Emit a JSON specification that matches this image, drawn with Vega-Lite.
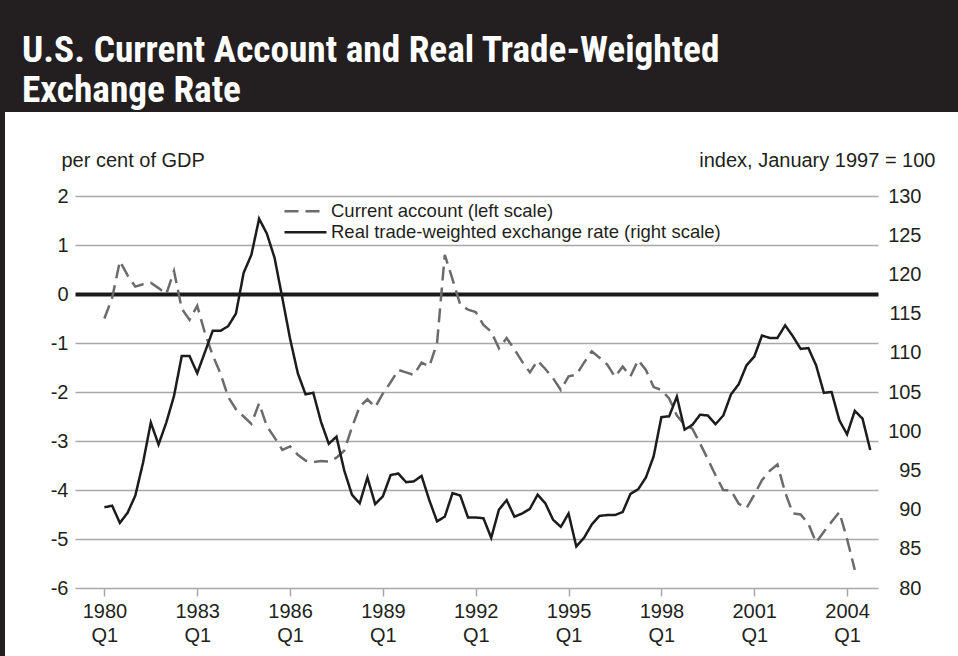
{
  "$schema": "https://vega.github.io/schema/vega-lite/v6.json",
  "width": 953,
  "height": 544,
  "autosize": {"type": "none"},
  "padding": {"left": 5, "top": 112, "right": 0, "bottom": 0},
  "background": "#231f20",
  "title": {
    "text": ["U.S. Current Account and Real Trade-Weighted", "Exchange Rate"],
    "anchor": "start",
    "frame": "group",
    "orient": "top",
    "font": "Roboto Condensed, DejaVu Sans Condensed, Liberation Sans Narrow, Roboto",
    "fontWeight": "bold",
    "fontSize": 37.3,
    "color": "#ffffff",
    "lineHeight": 40,
    "baseline": "top",
    "offset": 2,
    "dx": 17
  },
  "config": {
    "view": {"fill": "#ffffff", "stroke": null},
    "font": "Liberation Sans",
    "axis": {
      "labelFont": "Liberation Sans",
      "labelFontSize": 20,
      "labelColor": "#231f20",
      "titleFont": "Liberation Sans",
      "titleFontSize": 20,
      "titleFontWeight": "normal",
      "titleColor": "#231f20",
      "labelOverlap": false
    },
    "legend": {
      "labelFont": "Liberation Sans",
      "labelFontSize": 18.5,
      "labelColor": "#231f20",
      "symbolType": "stroke",
      "symbolSize": 1764,
      "symbolStrokeWidth": 2.5,
      "labelOffset": 3,
      "clipHeight": 18.5,
      "rowPadding": 2,
      "padding": 0,
      "labelLimit": 700
    }
  },
  "data": {
    "values": [
      {"t": 1980.00, "ca": -0.50, "er": 90.3},
      {"t": 1980.25, "ca": -0.08, "er": 90.5},
      {"t": 1980.50, "ca": 0.67, "er": 88.3},
      {"t": 1980.75, "ca": 0.38, "er": 89.6},
      {"t": 1981.00, "ca": 0.15, "er": 91.8},
      {"t": 1981.25, "ca": 0.20, "er": 96.0},
      {"t": 1981.50, "ca": 0.23, "er": 101.1},
      {"t": 1981.75, "ca": 0.12, "er": 98.3},
      {"t": 1982.00, "ca": 0.00, "er": 101.1},
      {"t": 1982.25, "ca": 0.47, "er": 104.5},
      {"t": 1982.50, "ca": -0.30, "er": 109.6},
      {"t": 1982.75, "ca": -0.53, "er": 109.6},
      {"t": 1983.00, "ca": -0.24, "er": 107.4},
      {"t": 1983.25, "ca": -0.80, "er": 110.1},
      {"t": 1983.50, "ca": -1.25, "er": 112.8},
      {"t": 1983.75, "ca": -1.62, "er": 112.8},
      {"t": 1984.00, "ca": -2.10, "er": 113.4},
      {"t": 1984.25, "ca": -2.35, "er": 115.0},
      {"t": 1984.50, "ca": -2.50, "er": 120.2},
      {"t": 1984.75, "ca": -2.65, "er": 122.5},
      {"t": 1985.00, "ca": -2.23, "er": 127.1},
      {"t": 1985.25, "ca": -2.70, "er": 125.2},
      {"t": 1985.50, "ca": -2.93, "er": 122.1},
      {"t": 1985.75, "ca": -3.18, "er": 117.0},
      {"t": 1986.00, "ca": -3.11, "er": 111.8},
      {"t": 1986.25, "ca": -3.28, "er": 107.4},
      {"t": 1986.50, "ca": -3.40, "er": 104.7},
      {"t": 1986.75, "ca": -3.43, "er": 104.9},
      {"t": 1987.00, "ca": -3.41, "er": 101.2},
      {"t": 1987.25, "ca": -3.42, "er": 98.4},
      {"t": 1987.50, "ca": -3.34, "er": 99.3},
      {"t": 1987.75, "ca": -3.20, "er": 95.0},
      {"t": 1988.00, "ca": -2.72, "er": 91.9},
      {"t": 1988.25, "ca": -2.30, "er": 90.8},
      {"t": 1988.50, "ca": -2.15, "er": 94.1},
      {"t": 1988.75, "ca": -2.31, "er": 90.7},
      {"t": 1989.00, "ca": -2.03, "er": 91.7},
      {"t": 1989.25, "ca": -1.80, "er": 94.4},
      {"t": 1989.50, "ca": -1.55, "er": 94.6},
      {"t": 1989.75, "ca": -1.60, "er": 93.5},
      {"t": 1990.00, "ca": -1.65, "er": 93.6},
      {"t": 1990.25, "ca": -1.40, "er": 94.3},
      {"t": 1990.50, "ca": -1.48, "er": 91.2},
      {"t": 1990.75, "ca": -1.00, "er": 88.5},
      {"t": 1991.00, "ca": 0.80, "er": 89.1},
      {"t": 1991.25, "ca": 0.30, "er": 92.1},
      {"t": 1991.50, "ca": -0.22, "er": 91.8},
      {"t": 1991.75, "ca": -0.32, "er": 89.0},
      {"t": 1992.00, "ca": -0.37, "er": 89.0},
      {"t": 1992.25, "ca": -0.63, "er": 88.9},
      {"t": 1992.50, "ca": -0.77, "er": 86.4},
      {"t": 1992.75, "ca": -1.11, "er": 90.0},
      {"t": 1993.00, "ca": -0.90, "er": 91.2},
      {"t": 1993.25, "ca": -1.13, "er": 89.1},
      {"t": 1993.50, "ca": -1.38, "er": 89.5},
      {"t": 1993.75, "ca": -1.60, "er": 90.1},
      {"t": 1994.00, "ca": -1.36, "er": 91.9},
      {"t": 1994.25, "ca": -1.53, "er": 90.8},
      {"t": 1994.50, "ca": -1.72, "er": 88.7},
      {"t": 1994.75, "ca": -1.96, "er": 87.8},
      {"t": 1995.00, "ca": -1.68, "er": 89.5},
      {"t": 1995.25, "ca": -1.65, "er": 85.3},
      {"t": 1995.50, "ca": -1.40, "er": 86.4},
      {"t": 1995.75, "ca": -1.17, "er": 88.1},
      {"t": 1996.00, "ca": -1.30, "er": 89.2},
      {"t": 1996.25, "ca": -1.44, "er": 89.3},
      {"t": 1996.50, "ca": -1.69, "er": 89.3},
      {"t": 1996.75, "ca": -1.48, "er": 89.7},
      {"t": 1997.00, "ca": -1.68, "er": 92.0},
      {"t": 1997.25, "ca": -1.35, "er": 92.6},
      {"t": 1997.50, "ca": -1.55, "er": 94.1},
      {"t": 1997.75, "ca": -1.90, "er": 96.8},
      {"t": 1998.00, "ca": -1.96, "er": 101.8},
      {"t": 1998.25, "ca": -2.13, "er": 101.9},
      {"t": 1998.50, "ca": -2.48, "er": 104.4},
      {"t": 1998.75, "ca": -2.67, "er": 100.2},
      {"t": 1999.00, "ca": -2.75, "er": 100.8},
      {"t": 1999.25, "ca": -3.05, "er": 102.1},
      {"t": 1999.50, "ca": -3.37, "er": 102.0},
      {"t": 1999.75, "ca": -3.70, "er": 100.9},
      {"t": 2000.00, "ca": -4.00, "er": 102.0},
      {"t": 2000.25, "ca": -4.01, "er": 104.7},
      {"t": 2000.50, "ca": -4.28, "er": 106.0},
      {"t": 2000.75, "ca": -4.37, "er": 108.4},
      {"t": 2001.00, "ca": -4.10, "er": 109.5},
      {"t": 2001.25, "ca": -3.80, "er": 112.2},
      {"t": 2001.50, "ca": -3.61, "er": 111.9},
      {"t": 2001.75, "ca": -3.48, "er": 111.9},
      {"t": 2002.00, "ca": -4.05, "er": 113.5},
      {"t": 2002.25, "ca": -4.48, "er": 112.1},
      {"t": 2002.50, "ca": -4.50, "er": 110.5},
      {"t": 2002.75, "ca": -4.69, "er": 110.6},
      {"t": 2003.00, "ca": -5.07, "er": 108.4},
      {"t": 2003.25, "ca": -4.85, "er": 104.9},
      {"t": 2003.50, "ca": -4.65, "er": 105.0},
      {"t": 2003.75, "ca": -4.45, "er": 101.4},
      {"t": 2004.00, "ca": -5.00, "er": 99.6},
      {"t": 2004.25, "ca": -5.63, "er": 102.6},
      {"t": 2004.50, "er": 101.6},
      {"t": 2004.75, "er": 97.6}
    ]
  },
  "layer": [
    {
      "mark": {"type": "line", "strokeWidth": 2.5},
      "encoding": {
        "x": {
          "field": "t",
          "type": "quantitative",
          "scale": {"domain": [1979.05, 2005], "range": [70, 873], "nice": false, "zero": false},
          "axis": {
            "values": [1980, 1983, 1986, 1989, 1992, 1995, 1998, 2001, 2004],
            "format": "d",
            "labelExpr": "[datum.label, 'Q1']",
            "grid": false,
            "domain": false,
            "ticks": true,
            "tickSize": 8,
            "tickColor": "#a8a8a8",
            "tickWidth": 1.5,
            "labelLineHeight": 24,
            "labelPadding": 5,
            "title": null,
            "offset": -68
          }
        },
        "y": {
          "field": "ca",
          "type": "quantitative",
          "scale": {"domain": [-6, 2], "range": [476, 84], "nice": false, "zero": false},
          "axis": {
            "orient": "left",
            "values": [-6, -5, -4, -3, -2, -1, 0, 1, 2],
            "labelExpr": "'' + datum.value",
            "offset": -70,
            "grid": true,
            "gridColor": {"condition": {"test": "datum.value === 0", "value": "#1a1a1a"}, "value": "#a8a8a8"},
            "gridWidth": {"condition": {"test": "datum.value === 0", "value": 4}, "value": 1.5},
            "domain": false,
            "ticks": false,
            "tickSize": 0,
            "labelPadding": 7,
            "title": "per cent of GDP",
            "titleAngle": 0,
            "titleAlign": "left",
            "titleBaseline": "alphabetic",
            "titleX": -14,
            "titleY": 54
          }
        },
        "color": {
          "datum": "Current account (left scale)",
          "type": "nominal",
          "scale": {
            "domain": ["Current account (left scale)", "Real trade-weighted exchange rate (right scale)"],
            "range": ["#6b6b6b", "#1c1c1c"]
          },
          "legend": {"orient": "none", "legendX": 278, "legendY": 90, "title": null}
        },
        "strokeDash": {
          "datum": "Current account (left scale)",
          "type": "nominal",
          "scale": {
            "domain": ["Current account (left scale)", "Real trade-weighted exchange rate (right scale)"],
            "range": [[14, 7], [1, 0]]
          },
          "legend": {"orient": "none", "legendX": 278, "legendY": 90, "title": null}
        }
      }
    },
    {
      "mark": {"type": "line", "strokeWidth": 2.5},
      "encoding": {
        "x": {"field": "t", "type": "quantitative"},
        "y": {
          "field": "er",
          "type": "quantitative",
          "scale": {"domain": [80, 130], "range": [476, 84], "nice": false, "zero": false},
          "axis": {
            "orient": "right",
            "values": [80, 85, 90, 95, 100, 105, 110, 115, 120, 125, 130],
            "offset": -80,
            "grid": false,
            "domain": false,
            "ticks": false,
            "tickSize": 0,
            "labelAlign": "right",
            "labelPadding": 43,
            "title": "index, January 1997 = 100",
            "titleAngle": 0,
            "titleAlign": "right",
            "titleBaseline": "alphabetic",
            "titleX": 57,
            "titleY": 54
          }
        },
        "color": {"datum": "Real trade-weighted exchange rate (right scale)", "type": "nominal"},
        "strokeDash": {"datum": "Real trade-weighted exchange rate (right scale)", "type": "nominal"}
      }
    }
  ],
  "resolve": {"scale": {"y": "independent"}, "axis": {"y": "independent"}}
}
